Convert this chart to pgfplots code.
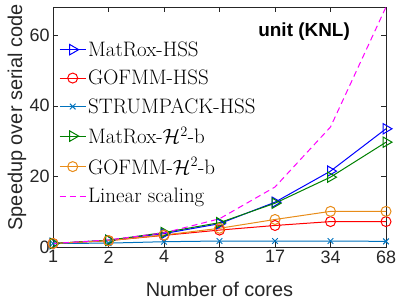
\documentclass[border=0pt]{standalone}
\usepackage{fontspec}
\setsansfont{Liberation Sans}
\usepackage{pgfplots}
\pgfplotsset{compat=1.18}
\definecolor{mblue}{rgb}{0,0,1}
\definecolor{mred}{rgb}{1,0,0}
\definecolor{mstrum}{rgb}{0,0.447,0.741}
\definecolor{mgreen}{rgb}{0,0.5,0}
\definecolor{morange}{rgb}{0.91,0.55,0.1}
\definecolor{mmag}{rgb}{1,0,1}
\definecolor{axcol}{rgb}{0.15,0.15,0.15}
\begin{document}
\begin{tikzpicture}
\begin{axis}[name=ax,
  scale only axis, width=333bp, height=240bp,
  xmin=0, xmax=6, ymin=0, ymax=68,
  xtick={0,1,2,3,4,5,6}, xticklabels={1,2,4,8,17,34,68},
  ytick={0,20,40,60},
  tick align=inside, major tick length=5bp,
  axis line style={axcol}, tick style={axcol},
  tick label style={font=\fontsize{18}{18}\sffamily, text=axcol},
  /pgf/number format/assume math mode=true,
  xlabel={Number of cores}, ylabel={Speedup over serial code},
  label style={font=\fontsize{20}{20}\sffamily, text=axcol},
  xlabel style={at={(axis description cs:0.5,0)}, anchor=base, yshift=-49bp},
  ylabel style={at={(axis description cs:-0.093,0.54)}, anchor=base},
  legend style={at={(axis description cs:0.018,0.865)}, anchor=north west,
    draw=none, fill=none, font=\fontsize{21}{21}\selectfont, row sep=8.3bp,
    inner sep=0pt},
  legend cell align=left,
  legend image code/.code={\draw[mark repeat=2, mark phase=2, #1] plot coordinates {(0bp,0bp) (13bp,0bp) (26bp,0bp)};},
  every axis plot/.append style={line width=1bp},
]
\addplot[mblue, mark=triangle, mark size=6bp, mark options={rotate=-90, solid}] coordinates {(0,1) (1,1.9) (2,3.8) (3,6.6) (4,12.7) (5,21.5) (6,33.5)};
\addlegendentry{MatRox-HSS}
\addplot[mred, mark=o, mark size=5bp] coordinates {(0,1) (1,1.8) (2,3.3) (3,4.8) (4,6.1) (5,7.2) (6,7.2)};
\addlegendentry{GOFMM-HSS}
\addplot[mstrum, mark=x, mark size=4bp] coordinates {(0,1) (1,1.1) (2,1.5) (3,1.7) (4,1.7) (5,1.7) (6,1.6)};
\addlegendentry{STRUMPACK-HSS}
\addplot[mgreen, mark=triangle, mark size=6bp, mark options={rotate=-90, solid}] coordinates {(0,1) (1,1.9) (2,4.1) (3,6.9) (4,12.4) (5,19.8) (6,29.7)};
\addlegendentry{MatRox-$\mathcal{H}^2$-b}
\addplot[morange, mark=o, mark size=5bp] coordinates {(0,1) (1,1.8) (2,3.4) (3,5.3) (4,7.8) (5,10.1) (6,10.1)};
\addlegendentry{GOFMM-$\mathcal{H}^2$-b}
\addplot[mmag, dashed, dash pattern=on 6bp off 4bp, no marks] coordinates {(0,1) (1,2) (2,4) (3,8) (4,17) (5,34) (6,68)};
\addlegendentry{Linear scaling}
\node[anchor=base, font=\fontsize{19}{19}\sffamily\bfseries] at (rel axis cs:0.754,0.877) {unit (KNL)};
\end{axis}
\pgfresetboundingbox
\path ([shift={(-53bp,-55.5bp)}]ax.south west) rectangle ([shift={(13bp,7bp)}]ax.north east);
\end{tikzpicture}
\end{document}
